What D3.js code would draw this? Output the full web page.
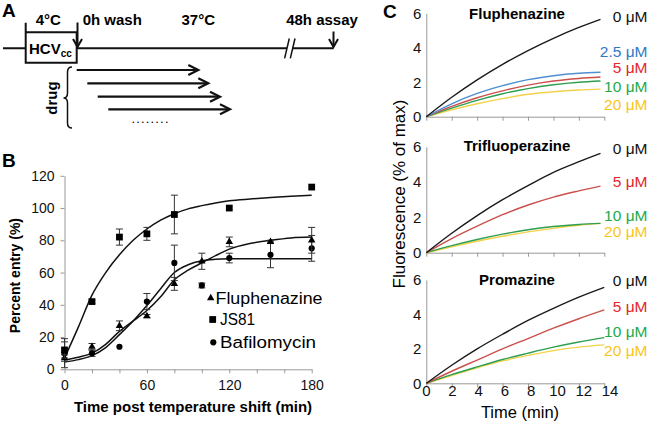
<!DOCTYPE html>
<html><head><meta charset="utf-8">
<script src="https://cdn.jsdelivr.net/npm/d3@7"></script>
<style>
html,body{margin:0;padding:0;background:#fff;}
svg{display:block;font-family:"Liberation Sans",Arial,sans-serif;}
</style></head>
<body><svg id="c" width="650" height="422"></svg>
<script>
// ---------- Panel B data ----------
const fluTimes = [0,20,40,60,80,100,120,150,180];
const fluMean  = [7,14,27,33,53,67,79,79,80];
const fluErr   = [2,2,3,1,4,5,3,1,8];
const jsTimes  = [0,20,40,60,80,120,180];
const jsMean   = [12,42,82,84,96,100,113];
const jsErr    = [5,1,5,4,12,0,0];
const bafTimes = [0,20,40,60,80,100,120,150,180];
const bafMean  = [10,10,14,42,66,52,69,71,75];
const bafErr   = [9,2,0,5,11,1.5,3,8,8];
const fitTimes = [0,10,20,30,40,50,60,70,80,90,100,110,120,135,150,165,180];
const fluFit   = [5.8,7.5,10,15.5,23.5,30,36.5,45,55.5,61.5,66,70.5,74.5,78,80,81.5,82];
const bafFit   = [4.5,6,8.5,13.5,21.5,30,39.5,50,60,64.8,67.3,68.2,68.5,68.6,68.6,68.6,68.6];
const jsFit    = [7,26,46,60,71,80,87,92.5,96.5,99.5,101.5,103.2,104.5,105.6,106.5,107.3,108];
const bSeries  = ["Fluphenazine","JS81","Bafilomycin"];
const bYTicks  = [0,20,40,60,80,100,120];
const bXLabels = [0,60,120,180];

// ---------- Panel C data ----------
const cTimes   = [0,2,4,6,8,10,12,13.7];
const cTimesP  = [0,2,4,6,8,10,12,14];
const cTitles  = ["Fluphenazine","Trifluoperazine","Promazine"];
const fluConc  = ["0 μM","2.5 μM","5 μM","10 μM","20 μM"];
const fluC0    = [0,1.13,2.14,3.04,3.84,4.55,5.18,5.65];
const fluC25   = [0,0.75,1.35,1.8,2.15,2.38,2.52,2.58];
const fluC5    = [0,0.6,1.1,1.5,1.83,2.07,2.22,2.3];
const fluC10   = [0,0.5,0.95,1.33,1.63,1.85,2.0,2.07];
const fluC20   = [0,0.4,0.75,1.05,1.3,1.45,1.55,1.6];
const triConc  = ["0 μM","5 μM","10 μM","20 μM"];
const triC0    = [0,1.1,2.1,3.0,3.8,4.55,5.15,5.62];
const triC5    = [0,0.8,1.5,2.15,2.7,3.15,3.5,3.77];
const triC10   = [0,0.4,0.75,1.05,1.3,1.48,1.6,1.66];
const triC20   = [0,0.33,0.65,0.93,1.18,1.38,1.55,1.66];
const proConc  = ["0 μM","5 μM","10 μM","20 μM"];
const proC0    = [0,1.05,2.0,2.85,3.65,4.35,5.0,5.57];
const proC5    = [0,0.7,1.35,2.0,2.6,3.2,3.75,4.26];
const proC10   = [0,0.5,0.95,1.38,1.75,2.1,2.4,2.65];
const proC20   = [0,0.45,0.9,1.3,1.62,1.9,2.1,2.23];
const cYTicks  = [0,2,4,6];
const cXTicks  = [0,2,4,6,8,10,12,14];

// ---------- styles / layout ----------
const FONT = '"Liberation Sans",Arial,sans-serif';
const AXIS = "#999";
const lineCol = {"0 μM":"#1a1a1a","2.5 μM":"#4f8fd2","5 μM":"#c9504c","10 μM":"#2e9e50","20 μM":"#f2d24a"};
const textCol = {"0 μM":"#111","2.5 μM":"#2f78c4","5 μM":"#e3262a","10 μM":"#22a94a","20 μM":"#f7c51c"};

const svg = d3.select("#c").style("font-family", FONT);

// ================= Panel A =================
const A = svg.append("g");
const blk = "#111";
A.append("text").attr("x",2).attr("y",17).attr("font-size",19).attr("font-weight","bold").text("A");
A.append("line").attr("x1",3).attr("x2",287).attr("y1",48.3).attr("y2",48.3).attr("stroke",blk).attr("stroke-width",2);
A.append("line").attr("x1",292.5).attr("x2",333.5).attr("y1",48.3).attr("y2",48.3).attr("stroke",blk).attr("stroke-width",2);
A.append("line").attr("x1",289.3).attr("y1",38.5).attr("x2",284.6).attr("y2",58.3).attr("stroke",blk).attr("stroke-width",1.5);
A.append("line").attr("x1",295).attr("y1",38.5).attr("x2",290.3).attr("y2",58.3).attr("stroke",blk).attr("stroke-width",1.5);
A.append("path").attr("d","M25.7,22.7 V62.7 H76.7 V32.3 H25.7").attr("fill","#fff").attr("stroke",blk).attr("stroke-width",2);
A.append("text").attr("x",29).attr("y",54).attr("font-size",15).attr("font-weight","bold").text("HCV")
  .append("tspan").attr("font-size",10).attr("dy",3).text("cc");
function downArrow(x,y1,y2){
  A.append("line").attr("x1",x).attr("x2",x).attr("y1",y1).attr("y2",y2).attr("stroke",blk).attr("stroke-width",2);
  A.append("path").attr("d",`M${x-4.5},${y2-8} L${x},${y2} L${x+4.5},${y2-8}`).attr("fill","none").attr("stroke",blk).attr("stroke-width",2);
}
downArrow(77.5,22.5,47);
downArrow(333.5,31.5,47);
A.append("text").attr("x",48.3).attr("y",25).attr("text-anchor","middle").attr("font-size",15).attr("font-weight","bold").text("4°C");
A.append("text").attr("x",82.7).attr("y",25).attr("font-size",15).attr("font-weight","bold").text("0h wash");
A.append("text").attr("x",198.3).attr("y",25).attr("text-anchor","middle").attr("font-size",15).attr("font-weight","bold").text("37°C");
A.append("text").attr("x",322).attr("y",25).attr("text-anchor","middle").attr("font-size",15).attr("font-weight","bold").text("48h assay");
const drugArrows = [[76.7,198.3,70],[87.3,208.3,83.3],[97.7,220,96.7],[108.3,230,109.3]];
drugArrows.forEach(([x1,x2,y])=>{
  A.append("line").attr("x1",x1).attr("x2",x2-1).attr("y1",y).attr("y2",y).attr("stroke",blk).attr("stroke-width",2.2);
  A.append("path").attr("d",`M${x2-10},${y-5} L${x2},${y} L${x2-10},${y+5}`).attr("fill","none").attr("stroke",blk).attr("stroke-width",2.2);
});
A.append("text").attr("x",131.5).attr("y",123).attr("font-size",13).attr("textLength",37).attr("lengthAdjust","spacing").text("........");
A.append("path").attr("d","M72,67 Q67.5,67 67.5,72 L67.5,93 Q67.5,98 63.5,98 Q67.5,98 67.5,103 L67.5,123 Q67.5,128 72,128")
  .attr("fill","none").attr("stroke",blk).attr("stroke-width",1.5);
A.append("text").attr("transform","translate(56.5,98) rotate(-90)").attr("text-anchor","middle").attr("font-size",15).attr("font-weight","bold").text("drug");

// ================= Panel B =================
const B = svg.append("g");
B.append("text").attr("x",2).attr("y",167).attr("font-size",19).attr("font-weight","bold").text("B");
const xB = d3.scaleLinear().domain([0,180]).range([64.5,311.7]);
const yB = d3.scaleLinear().domain([0,120]).range([369.3,175.8]);

const yAxB = B.append("g").attr("transform",`translate(${xB(0)},0)`)
  .call(d3.axisLeft(yB).tickValues(bYTicks).tickSize(4).tickSizeOuter(0).tickPadding(6));
const xAxB = B.append("g").attr("transform",`translate(0,${yB(0)})`)
  .call(d3.axisBottom(xB).tickValues(d3.range(0,181,20)).tickSize(4).tickSizeOuter(0).tickPadding(5)
    .tickFormat(d=>bXLabels.includes(d)?d:""));
[yAxB,xAxB].forEach(g=>{
  g.selectAll("path,line").attr("stroke",AXIS).attr("stroke-width",1);
  g.selectAll("text").attr("fill","#111").attr("font-size",14).attr("font-family",FONT);
});
xAxB.selectAll("text").attr("dy","0.85em");

B.append("text").attr("transform",`translate(20,${(yB(0)+yB(120))/2 + 3}) rotate(-90)`).attr("text-anchor","middle")
  .attr("font-size",14).attr("font-weight","bold").text("Percent entry (%)");
B.append("text").attr("x",193).attr("y",412).attr("text-anchor","middle").attr("font-size",15).attr("font-weight","bold")
  .text("Time post temperature shift (min)");

const lineB = d3.line().x(d=>xB(d[0])).y(d=>yB(d[1])).curve(d3.curveMonotoneX);
[jsFit,fluFit,bafFit].forEach(f=>{
  B.append("path").attr("d",lineB(fitTimes.map((t,i)=>[t,f[i]]))).attr("fill","none").attr("stroke","#111").attr("stroke-width",1.5);
});

const symT = d3.symbol().type(d3.symbolTriangle).size(24);
const symS = d3.symbol().type(d3.symbolSquare).size(46);
const symC = d3.symbol().type(d3.symbolCircle).size(30);
function drawSeries(times,mean,err,sym){
  times.forEach((t,i)=>{
    const x = xB(t);
    if (err[i] > 0){
      const y1 = yB(mean[i]+err[i]), y2 = yB(mean[i]-err[i]);
      B.append("line").attr("x1",x).attr("x2",x).attr("y1",y1).attr("y2",y2).attr("stroke","#333").attr("stroke-width",1);
      [y1,y2].forEach(y=>B.append("line").attr("x1",x-3.5).attr("x2",x+3.5).attr("y1",y).attr("y2",y).attr("stroke","#333").attr("stroke-width",1));
    }
    B.append("path").attr("d",sym()).attr("transform",`translate(${x},${yB(mean[i])})`).attr("fill","#000");
  });
}
drawSeries(bafTimes,bafMean,bafErr,symC);
drawSeries(fluTimes,fluMean,fluErr,symT);
drawSeries(jsTimes,jsMean,jsErr,symS);

const legSyms = [symT,symS,symC];
const legX = [210.7,212.7,213.3];
const legY = [298,319.5,342.3];
const legTxtX = [215.5,220,220];
const legLen = [107,35,96];
bSeries.forEach((s,i)=>{
  B.append("path").attr("d",legSyms[i]()).attr("transform",`translate(${legX[i]},${legY[i]})`).attr("fill","#000");
  B.append("text").attr("x",legTxtX[i]).attr("y",legY[i]).attr("dy","0.36em").attr("font-size",16)
    .attr("textLength",legLen[i]).attr("lengthAdjust","spacingAndGlyphs").text(s);
});

// ================= Panel C =================
const C = svg.append("g");
C.append("text").attr("x",383).attr("y",18).attr("font-size",19).attr("font-weight","bold").text("C");
const xC = d3.scaleLinear().domain([0,14]).range([426.3,604.3]);
const xLab = d3.scaleLinear().domain([0,14]).range([426.3,610]);
const panelRanges = [[116.7,13.3],[252.7,146.7],[383.3,280]];
const titleY = [13.5,146,280];
const panels = [
  {times:cTimes, conc:fluConc, vals:[fluC0,fluC25,fluC5,fluC10,fluC20], labY:[16,51.7,67.7,86,104]},
  {times:cTimes, conc:triConc, vals:[triC0,triC5,triC10,triC20], labY:[148.3,181.7,215,231.7]},
  {times:cTimesP, conc:proConc, vals:[proC0,proC5,proC10,proC20], labY:[280,306.7,331,350]}
];
panels.forEach((p,pi)=>{
  const yC = d3.scaleLinear().domain([0,6]).range(panelRanges[pi]);
  const g = C.append("g");
  const ya = g.append("g").attr("transform",`translate(${xC(0)},0)`)
    .call(d3.axisLeft(yC).tickValues(cYTicks).tickFormat(d3.format("d")).tickSize(0).tickSizeOuter(0).tickPadding(5));
  const xa = g.append("g").attr("transform",`translate(0,${yC(0)})`)
    .call(d3.axisBottom(xC).tickValues(cXTicks).tickSize(4).tickSizeOuter(0).tickFormat(""));
  [ya,xa].forEach(a=>{
    a.selectAll("path,line").attr("stroke",AXIS).attr("stroke-width",1);
    a.selectAll("text").attr("fill","#111").attr("font-size",15).attr("font-family",FONT);
  });
  if (pi===2){
    cXTicks.forEach(t=>{
      g.append("text").attr("x",xLab(t)).attr("y",yC(0)+2.5).attr("dy","0.71em").attr("text-anchor","middle")
        .attr("font-size",15).attr("fill","#111").text(t);
    });
  }
  g.append("text").attr("x",517).attr("y",titleY[pi]).attr("dy","0.36em").attr("text-anchor","middle")
    .attr("font-size",15).attr("font-weight","bold").text(cTitles[pi]);
  const ln = d3.line().x(d=>xC(d[0])).y(d=>yC(d[1])).curve(d3.curveMonotoneX);
  p.vals.slice().reverse().forEach((v,ri)=>{
    const ci = p.vals.length-1-ri;
    g.append("path").attr("d",ln(p.times.map((t,i)=>[t,v[i]]))).attr("fill","none")
      .attr("stroke",lineCol[p.conc[ci]]).attr("stroke-width",1.4);
  });
  p.conc.forEach((c,ci)=>{
    g.append("text").attr("x",647.5).attr("y",p.labY[ci]).attr("dy","0.36em").attr("text-anchor","end")
      .attr("font-size",15.5).attr("fill",textCol[c]).text(c);
  });
});
C.append("text").attr("transform",`translate(405,194) rotate(-90)`).attr("text-anchor","middle")
  .attr("font-size",17).text("Fluorescence (% of max)");
C.append("text").attr("x",520).attr("y",417.5).attr("text-anchor","middle").attr("font-size",16.5).text("Time (min)");
</script></body></html>
